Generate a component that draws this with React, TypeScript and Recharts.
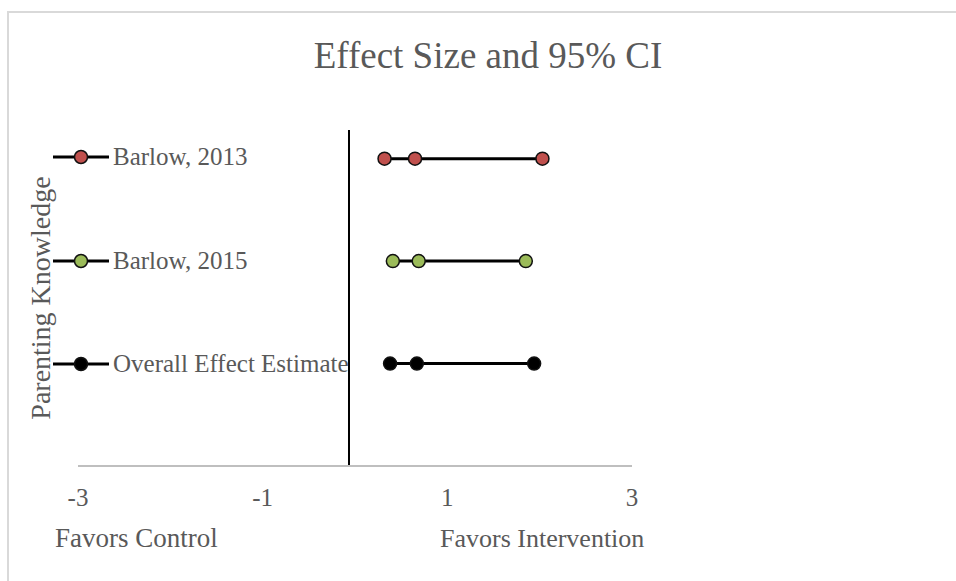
import React from 'react';
import { ScatterChart, Scatter, XAxis, YAxis, ReferenceLine, Legend } from 'recharts';

const studies = ['Barlow, 2013', 'Barlow, 2015', 'Overall Effect Estimate'];
const rowPos = [3, 2, 1];
const lower = [0.32, 0.41, 0.38];
const effect = [0.65, 0.69, 0.67];
const upper = [2.03, 1.85, 1.94];
const xTicks = [-3, -1, 1, 3];

const FILLS = ['#c0504d', '#9bbb59', '#000000'];
const TEXT = '#595959';
const FONT = '"Liberation Serif", serif';

const series = studies.map((name, i) => ({
  name,
  fill: FILLS[i],
  data: [
    { x: lower[i], y: rowPos[i] },
    { x: effect[i], y: rowPos[i] },
    { x: upper[i], y: rowPos[i] },
  ],
}));

const Dot = (props: any) => {
  const { cx, cy, fill } = props;
  return <circle cx={cx} cy={cy} r={6.5} fill={fill} stroke="#111" strokeWidth={1.5} />;
};

// legend rows line up with the plotted rows
const LegendBox = () => (
  <div style={{ fontFamily: FONT, fontSize: 25, color: TEXT }}>
    {series.map((s) => (
      <div key={s.name} style={{ height: 103.5, display: 'flex', alignItems: 'flex-start' }}>
        <div style={{ display: 'flex', alignItems: 'center', height: 24 }}>
          <svg width={56} height={24} style={{ flex: 'none' }}>
            <line x1={0} y1={12} x2={56} y2={12} stroke="#000" strokeWidth={3} />
            <circle cx={28} cy={12} r={6.5} fill={s.fill} stroke="#111" strokeWidth={1.5} />
          </svg>
          <span style={{ lineHeight: '24px', marginLeft: 4, whiteSpace: 'nowrap' }}>{s.name}</span>
        </div>
      </div>
    ))}
  </div>
);

export default function App() {
  return (
    <div style={{ position: 'absolute', left: 0, top: 0, width: 956, height: 581, overflow: 'hidden', background: '#fff' }}>
      <div style={{ position: 'absolute', left: 7, top: 11, width: 980, height: 600, border: '2px solid #d9d9d9' }} />
      <div style={{ position: 'absolute', left: 0, top: 34, width: 976, textAlign: 'center', fontFamily: FONT, fontSize: 37, color: TEXT }}>
        Effect Size and 95% CI
      </div>
      <div style={{ position: 'absolute', left: 0, top: 0 }}>
        <ScatterChart width={956} height={581} margin={{ top: 130, right: 324, bottom: 55, left: 0 }}>
          <XAxis
            type="number"
            dataKey="x"
            domain={[-3, 3]}
            ticks={xTicks}
            height={60}
            tickLine={false}
            axisLine={{ stroke: '#bfbfbf', strokeWidth: 2 }}
            tick={{ fill: TEXT, fontSize: 25, fontFamily: FONT }}
            tickMargin={16}
          />
          <YAxis
            type="number"
            dataKey="y"
            domain={[0, 3.28]}
            width={78}
            tick={false}
            axisLine={false}
            label={{ value: 'Parenting Knowledge', angle: -90, position: 'center', dx: 1, fill: TEXT, fontSize: 28, fontFamily: FONT }}
          />
          <ReferenceLine x={-0.065} stroke="#000" strokeWidth={2} />
          <Legend
            layout="vertical"
            verticalAlign="middle"
            align="center"
            wrapperStyle={{ left: 53, top: 145, width: 320 }}
            content={() => <LegendBox />}
          />
          {series.map((s) => (
            <Scatter
              key={s.name}
              name={s.name}
              data={s.data}
              fill={s.fill}
              line={{ stroke: '#000', strokeWidth: 3 }}
              shape={<Dot />}
              isAnimationActive={false}
            />
          ))}
        </ScatterChart>
      </div>
      <div style={{ position: 'absolute', left: 55, top: 523, fontFamily: FONT, fontSize: 27, color: TEXT }}>Favors Control</div>
      <div style={{ position: 'absolute', left: 440, top: 524, fontFamily: FONT, fontSize: 26, color: TEXT, whiteSpace: 'nowrap' }}>
        Favors Intervention
      </div>
    </div>
  );
}
